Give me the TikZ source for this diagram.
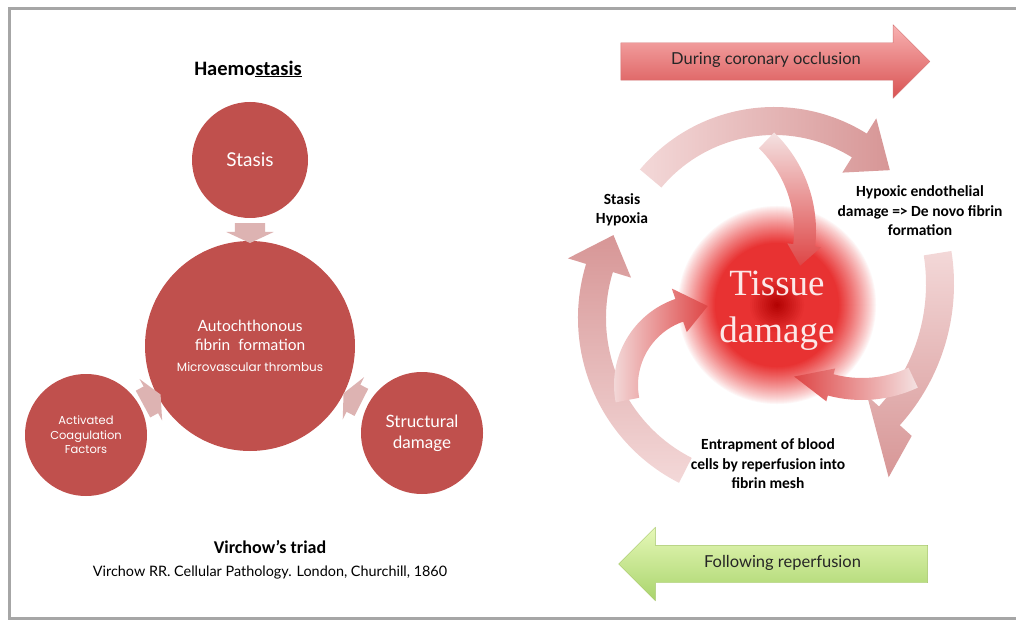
\documentclass[tikz,border=0pt]{standalone}
\usepackage{fontspec}
\setmainfont{Carlito}
\newfontfamily\gillfont{Lato}
\newfontfamily\gothicfont{Poppins}
\newfontfamily\serifbig{Liberation Serif}
\usetikzlibrary{shapes.arrows, calc}

\definecolor{triadred}{HTML}{C0504D}
\definecolor{triadpink}{HTML}{DDB3B2}
\definecolor{framegray}{HTML}{A6A6A6}
\definecolor{occtop}{HTML}{F8B2B2}
\definecolor{occbot}{HTML}{D95252}
\definecolor{occline}{HTML}{D27272}
\definecolor{reptop}{HTML}{E6F8B8}
\definecolor{repbot}{HTML}{A9D46C}
\definecolor{repline}{HTML}{A3C466}
\definecolor{cyclight}{HTML}{F3D8D8}
\definecolor{cycdark}{HTML}{D79696}
\definecolor{innerlight}{HTML}{F4E2E2}
\definecolor{innerred}{HTML}{DE4545}
\definecolor{tissuewhite}{HTML}{FCE8E8}
\definecolor{glowcore}{HTML}{B00000}
\definecolor{glowred}{HTML}{E83232}

% curved block arrow: options, centre, radius, start, head base, tip, half shaft, half head, tip offset
\newcommand{\bandarrow}[9]{%
  \pgfmathsetmacro\bandout{#3+#7}\pgfmathsetmacro\bandin{#3-#7}%
  \pgfmathsetmacro\headout{#3+#8}\pgfmathsetmacro\headin{#3-#8}%
  \pgfmathsetmacro\tipr{#3+#9}%
  \path[#1] ([shift={#2}]#4:\bandout) arc[start angle=#4, end angle=#5, radius=\bandout]
    -- ([shift={#2}]#5:\headout) -- ([shift={#2}]#6:\tipr)
    -- ([shift={#2}]#5:\headin) -- ([shift={#2}]#5:\bandin)
    arc[start angle=#5, end angle=#4, radius=\bandin] -- cycle;}

\tikzset{
  frameline/.style={draw=framegray, line width=3pt},
  triad/.style={circle, fill=triadred, text=white, inner sep=0pt, align=center},
  triadarrow/.style={single arrow, fill=triadpink, minimum height=20pt, inner xsep=0pt,
    inner ysep=15pt, single arrow head extend=8.5pt, single arrow tip angle=130},
  phasearrow/.style={single arrow, minimum height=309pt, text height=10pt, text depth=3pt,
    inner ysep=12pt, single arrow head extend=18pt, text=black!85,
    font=\gillfont\fontsize{16.5}{19}\selectfont},
  steplabel/.style={font=\bfseries\fontsize{15.5}{19.5}\selectfont, align=center}
}

\begin{document}
\begin{tikzpicture}[x=1pt, y=-1pt]
\useasboundingbox (0,0) rectangle (1016,620);
\draw[frameline] (1016,8.5) -- (9,8.5) -- (9,618) -- (1016,618);

% Virchow's triad
\node[font=\bfseries\fontsize{20.5}{24}\selectfont] (title) at (248,69) {Haemo\underline{stasis}};
\node[triad, minimum size=116pt, font=\gillfont\fontsize{19}{22}\selectfont] (stasis) at (250,160) {Stasis};
\node[triad, minimum size=210pt, font=\gillfont\fontsize{15.5}{19}\selectfont] (core) at (250,346)
  {Autochthonous\\fibrin\ \ formation\\[2pt]{\gothicfont\fontsize{12}{14}\selectfont Microvascular thrombus}};
\node[triad, minimum size=122pt, font=\gothicfont\fontsize{11.5}{14.5}\selectfont] (coag) at (86,435)
  {Activated\\Coagulation\\Factors};
\node[triad, minimum size=122pt, font=\gillfont\fontsize{17}{21}\selectfont] (struct) at (422,433)
  {Structural\\damage};
\foreach \src in {stasis, coag, struct}
  \path (\src) -- (core) node[midway, sloped, allow upside down, triadarrow] {};
\node[font=\bfseries\fontsize{18}{21}\selectfont] (triadname) at (270,547) {Virchow’s triad};
\node[font=\gillfont\fontsize{14.4}{17}\selectfont] (cite) at (270,573)
  {Virchow RR. Cellular Pathology. London, Churchill, 1860};

% phases
\node[phasearrow, top color=occtop, bottom color=occbot, draw=occline] (occlusion) at (766,61.5)
  {During coronary occlusion};
\node[phasearrow, shape border rotate=180, top color=reptop, bottom color=repbot, draw=repline]
  (reperf) at (782.5,564) {Following reperfusion};

% cycle
\coordinate (glow) at (777,305);
\foreach \r in {100,99,...,62}{
  \pgfmathsetmacro\pct{100*((100-\r)/38)^0.85}
  \fill[glowred!\pct!white] (glow) circle[radius=\r];}
\foreach \r in {61,59,...,1}{
  \pgfmathsetmacro\pct{min(100,\r*3.5)}
  \fill[glowred!\pct!glowcore] (glow) circle[radius=\r];}
\bandarrow{left color=cyclight, right color=cycdark}{(774,282)}{161}{220}{302}{316}{14}{32}{0}
\bandarrow{top color=cyclight, bottom color=cycdark}{(743,284)}{197}{-9}{42}{53}{14}{30}{45}
\bandarrow{bottom color=cyclight, top color=cycdark}{(763,318)}{171}{117}{197}{209}{14}{33}{0}
\bandarrow{top color=innerlight, bottom color=innerred}{(679,231)}{126}{-46}{6.5}{16}{11}{17}{0}
\bandarrow{right color=innerlight, left color=innerred}{(862,268)}{121}{65}{105}{122}{11}{17}{7}
\bandarrow{left color=innerlight, right color=innerred}{(705,385)}{79}{169}{251}{272}{12}{23}{0}
\node[font=\serifbig\fontsize{37}{47}\selectfont, text=tissuewhite, align=center] (tissue) at (777,311)
  {Tissue\\damage};

\node[steplabel] (hypoxia) at (622,210) {Stasis\\Hypoxia};
\node[steplabel] (denovo) at (920,211) {Hypoxic endothelial\\damage => De novo fibrin\\formation};
\node[steplabel] (entrap) at (768,464) {Entrapment of blood\\cells by reperfusion into\\fibrin mesh};
\end{tikzpicture}
\end{document}
